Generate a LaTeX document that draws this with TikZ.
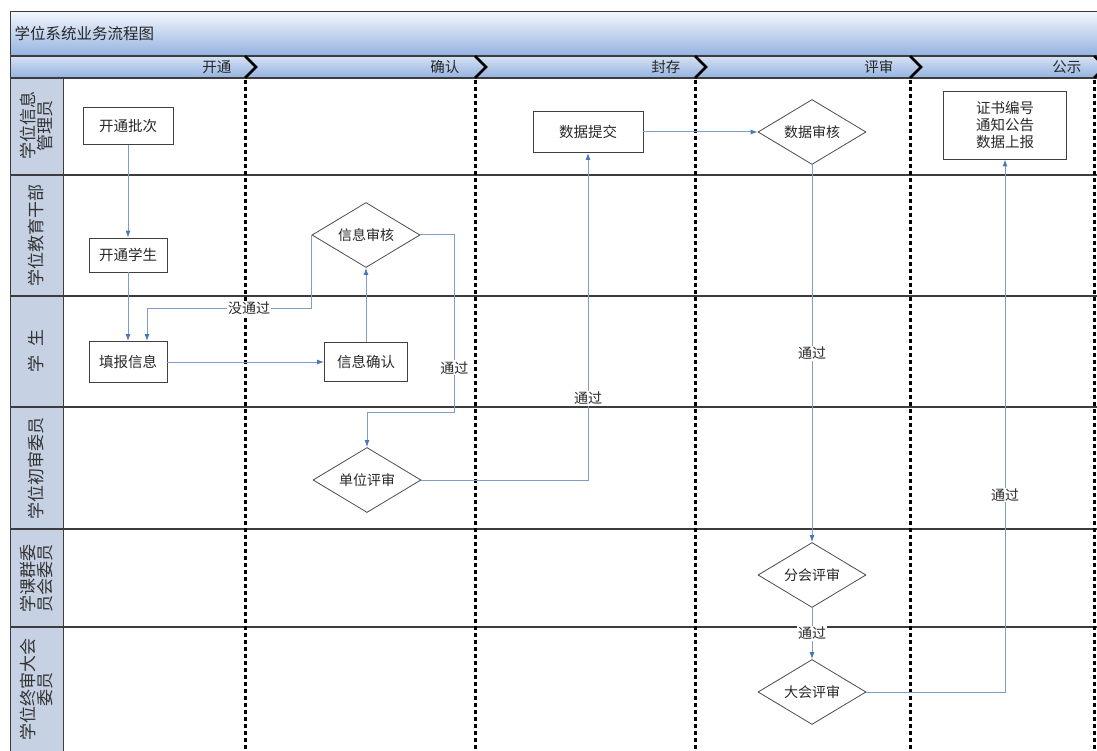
\documentclass[tikz,border=0pt]{standalone}
\usepackage{fontspec}
\setmainfont{Noto Sans CJK SC}
\usetikzlibrary{shapes.geometric,arrows.meta,calc}
\definecolor{lane}{RGB}{198,210,228}
\definecolor{barTop}{RGB}{242,246,252}
\definecolor{barBot}{RGB}{148,178,224}
\definecolor{conn}{RGB}{125,158,200}
\definecolor{tip}{RGB}{70,120,185}
\definecolor{frame}{RGB}{60,60,60}
\definecolor{txt}{RGB}{40,40,40}
\begin{document}
\begin{tikzpicture}[x=1pt,y=-1pt,
 box/.style={draw=black!75, line width=0.9pt, fill=white, inner sep=0pt, font=\fontsize{14.5}{17}\selectfont, text=txt, align=center},
 dia/.style={diamond, aspect=1.7, draw=black!70, line width=0.8pt, fill=white, inner sep=0pt, minimum width=108pt, minimum height=65pt, font=\fontsize{14}{16}\selectfont, text=txt},
 arr/.style={draw=conn, line width=1pt, -{Latex[length=7pt,width=5pt,color=tip]}},
 lbl/.style={fill=white, inner sep=1pt, font=\fontsize{14}{15}\selectfont, text=txt},
 lanelbl/.style={rotate=90, align=center, font=\fontsize{17}{17}\selectfont, text=black!80},
 phase/.style={anchor=east, font=\fontsize{14.5}{16}\selectfont, text=black!85},
 divider/.style={line width=3pt, dash pattern=on 4pt off 3pt},
 chev/.style={line width=2.5pt, line join=miter},
 laneline/.style={draw=frame, line width=1.4pt},
]
\useasboundingbox (0,0) rectangle (1097,751);
\fill[white] (0,0) rectangle (1097,751);
% bars
\shade[top color=barTop, bottom color=barBot] (10,12) rectangle (1097,56);
\shade[top color=barTop!70!barBot, bottom color=barBot] (10,56) rectangle (1097,78);
\fill[lane] (10,78) rectangle (63,751);
% frame
\draw[frame, line width=1pt] (1097,12) -- (10,12) -- (10,751);
\draw[frame, line width=1.4pt] (10,56) -- (1097,56);
\draw[frame, line width=2pt] (10,78) -- (1097,78);
\draw[frame, line width=1pt] (63,78) -- (63,751);
\foreach \y in {175,296,407,529,627} \draw[laneline] (10,\y) -- (1097,\y);
% phase dividers
\foreach \x in {245,475,695,910,1094} {
  \draw[divider] (\x,80) -- (\x,751);
  \draw[chev] (\x,56) -- (\x+11,67) -- (\x,78);
}
% title and phases
\node[anchor=west, font=\fontsize{15.5}{17}\selectfont, text=black!85] (title) at (11,34) {学位系统业务流程图};
\node[phase] (p1) at (235,67) {开通};
\node[phase] (p2) at (463,67) {确认};
\node[phase] (p3) at (684,67) {封存};
\node[phase] (p4) at (897,67) {评审};
\node[phase] (p5) at (1085,67) {公示};
% lane labels
\node[lanelbl] (l1) at (36,126) {学位信息\\管理员};
\node[lanelbl] (l2) at (36,236) {学位教育干部};
\node[lanelbl] (l3) at (36,351) {学\hspace{0.5em}生};
\node[lanelbl] (l4) at (36,468) {学位初审委员};
\node[lanelbl] (l5) at (36,578) {学课群委\\员会委员};
\node[lanelbl] (l6) at (36,689) {学位终审大会\\委员};
% nodes
\node[box, minimum width=90pt, minimum height=37pt] (kp) at (128,126) {开通批次};
\node[box, minimum width=78pt, minimum height=34pt] (ks) at (128,255) {开通学生};
\node[box, minimum width=78pt, minimum height=41pt] (tb) at (128,362) {填报信息};
\node[box, minimum width=83pt, minimum height=39pt] (xr) at (366,362) {信息确认};
\node[dia] (xs) at (366,235) {信息审核};
\node[dia] (dw) at (367,480) {单位评审};
\node[box, minimum width=110pt, minimum height=41pt] (sj) at (588,132) {数据提交};
\node[dia] (dsh) at (812,132) {数据审核};
\node[dia] (fh) at (812,575) {分会评审};
\node[dia] (dh) at (812,692) {大会评审};
\node[box, minimum width=123pt, minimum height=68pt] (zs) at (1005,125) {证书编号\\通知公告\\数据上报};
% connectors
\draw[arr] (kp) -- (ks);
\draw[arr] (ks) -- (tb);
\draw[arr] (xs.west) -- ++(0,73) -| node[lbl, pos=0.19]{没通过} ([xshift=19pt]tb.north);
\draw[arr] (tb) -- (xr);
\draw[arr] (xr) -- (xs);
\draw[arr] (xs.east) -- ++(34,0) -- node[lbl,pos=0.75]{通过} ++(0,177) -| (dw.north);
\draw[arr] (dw.east) -| node[lbl,pos=0.625]{通过} (sj.south);
\draw[arr] (sj) -- (dsh);
\draw[arr] (dsh) -- node[lbl]{通过} (fh);
\draw[arr] (fh) -- node[lbl,pos=0.5]{通过} (dh);
\draw[arr] (dh.east) -| node[lbl,pos=0.685]{通过} (zs.south);
\end{tikzpicture}
\end{document}
